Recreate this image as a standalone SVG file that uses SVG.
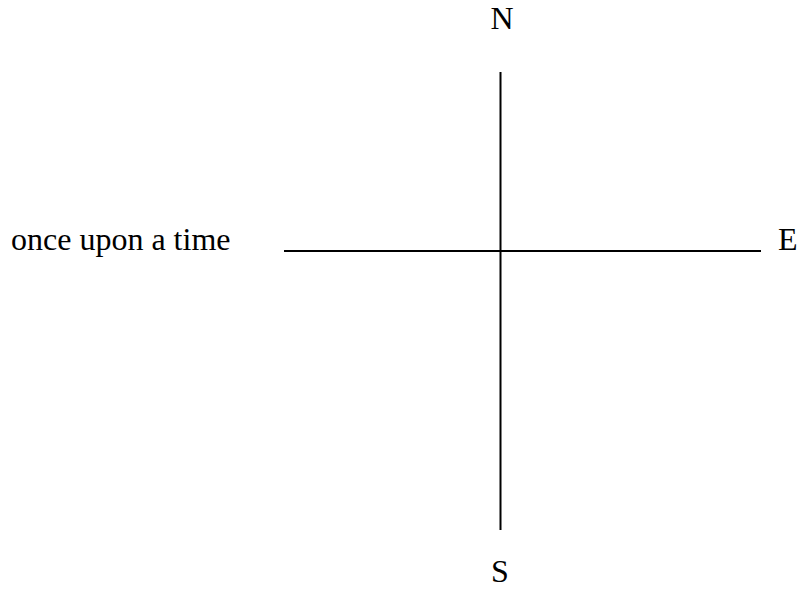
<svg xmlns="http://www.w3.org/2000/svg" width="802" height="589" viewBox="0 0 802 589">
<style>
text{font-family:'Liberation Serif','Times New Roman','DejaVu Serif',serif;font-size:32px;fill:#000}
line{stroke:#000;stroke-width:2}
</style>
<rect width="802" height="589" fill="#fff"/>
<g id="connectors">
<line x1="500.5" y1="72" x2="500.5" y2="530"/>
<line x1="284" y1="251" x2="761" y2="251"/>
</g>
<g id="n"><text x="502" y="29" text-anchor="middle">N</text></g>
<g id="s"><text x="500" y="582" text-anchor="middle">S</text></g>
<g id="e"><text x="778" y="250">E</text></g>
<g id="w"><text x="11" y="250">once upon a time</text></g>
</svg>
